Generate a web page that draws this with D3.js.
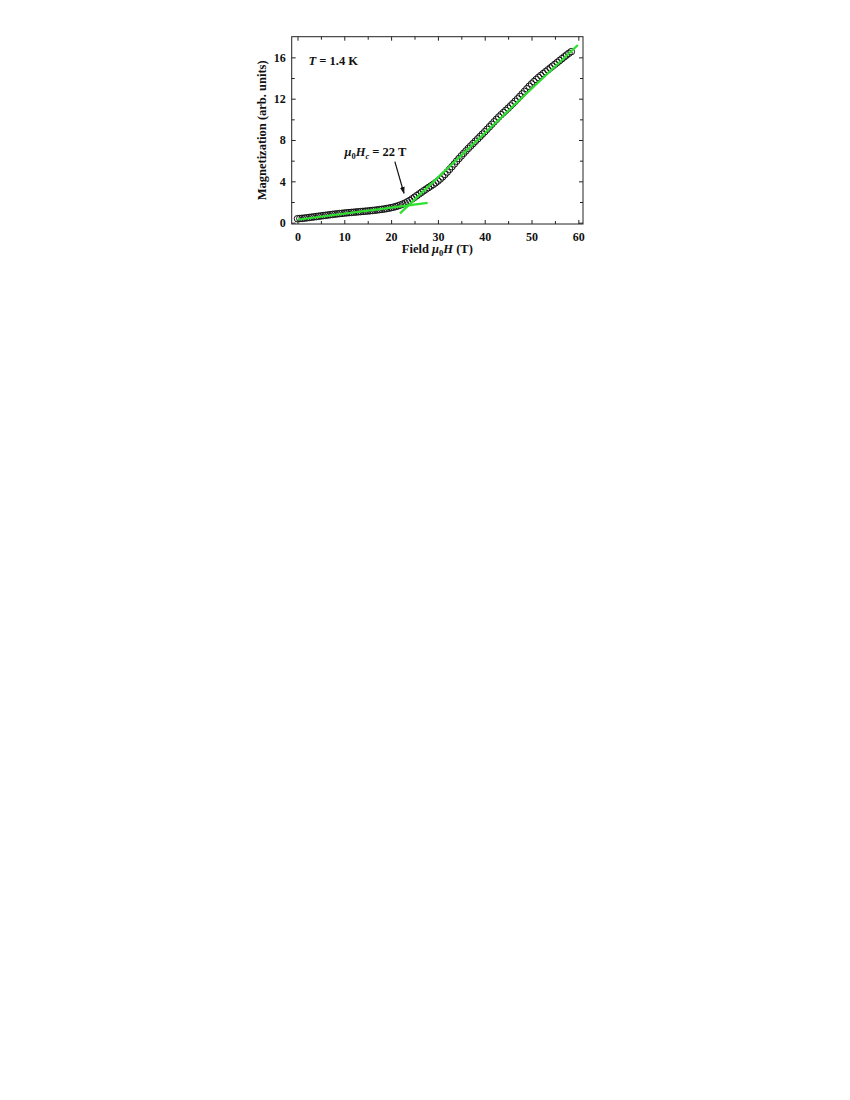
<!DOCTYPE html>
<html>
<head>
<meta charset="utf-8">
<script src="https://cdn.jsdelivr.net/npm/d3@7"></script>
<style>
  html, body { margin: 0; padding: 0; background: #fff; }
  svg text { font-family: "Liberation Serif", "Times New Roman", serif; font-weight: bold; fill: #111; }
</style>
</head>
<body>
<svg id="chart" width="850" height="1100"></svg>
<script>
// ---- data ----
const fieldT = [
  0,0.5,1,1.5,2,2.5,3,3.5,4,4.5,5,5.5,6,6.5,7,7.5,8,8.5,9,9.5,
  10,10.5,11,11.5,12,12.5,13,13.5,14,14.5,15,15.5,16,16.5,17,17.5,18,18.5,19,19.5,
  20,20.5,21,21.5,22,22.5,23,23.5,24,24.5,25,25.5,26,26.5,27,27.5,28,28.5,29,29.5,
  30,30.5,31,31.5,32,32.5,33,33.5,34,34.5,35,35.5,36,36.5,37,37.5,38,38.5,39,39.5,
  40,40.5,41,41.5,42,42.5,43,43.5,44,44.5,45,45.5,46,46.5,47,47.5,48,48.5,49,49.5,
  50,50.5,51,51.5,52,52.5,53,53.5,54,54.5,55,55.5,56,56.5,57,57.5,58,58.5
];
const magnetization = [
  0.38,0.40,0.42,0.44,0.47,0.50,0.53,0.56,0.59,0.62,0.65,0.68,0.71,0.74,0.77,0.80,0.83,0.85,0.88,0.90,
  0.93,0.95,0.97,0.99,1.01,1.03,1.05,1.07,1.09,1.11,1.13,1.15,1.18,1.20,1.23,1.26,1.29,1.32,1.36,1.40,
  1.45,1.50,1.56,1.63,1.71,1.80,1.90,2.02,2.15,2.30,2.46,2.62,2.78,2.94,3.10,3.25,3.40,3.55,3.70,3.86,
  4.03,4.22,4.43,4.66,4.90,5.16,5.42,5.68,5.95,6.21,6.46,6.71,6.95,7.19,7.42,7.65,7.88,8.11,8.34,8.57,
  8.80,9.04,9.28,9.52,9.76,10.00,10.23,10.45,10.66,10.87,11.08,11.30,11.52,11.75,11.98,12.22,12.46,12.71,12.96,13.20,
  13.43,13.65,13.86,14.06,14.25,14.43,14.61,14.79,14.97,15.15,15.33,15.51,15.69,15.87,16.05,16.23,16.40,16.55
];
// linear fits (green lines): [x, y] endpoints
const lowFieldFit = [[0, 0.28], [27.8, 1.92]];
const highFieldFit = [[21.9, 0.9], [59.9, 17.2]];
// tick values
const xMajorTicks = [0, 10, 20, 30, 40, 50, 60];
const xMinorTicks = [5, 15, 25, 35, 45, 55];
const yMajorTicks = [0, 4, 8, 12, 16];
const yMinorTicks = [2, 6, 10, 14];
// annotation
const arrowFrom = [20.8, 5.9];
const arrowTo = [22.75, 2.85];

// ---- layout ----
const svg = d3.select("#chart");
const pL = 291.7, pR = 583, pT = 36.7, pB = 224;
const x = d3.scaleLinear().domain([-1.24, 61.0]).range([pL, pR]);
const y = d3.scaleLinear().domain([-0.13, 18.0]).range([pB, pT]);

const defs = svg.append("defs");
defs.append("marker").attr("id", "ah").attr("viewBox", "0 0 10 10")
  .attr("refX", 9).attr("refY", 5).attr("markerWidth", 7).attr("markerHeight", 7)
  .attr("markerUnits", "userSpaceOnUse").attr("orient", "auto")
  .append("path").attr("d", "M0,1.5 L10,5 L0,8.5 Z").attr("fill", "#111");

// data points
const pts = fieldT.map((f, i) => [f, magnetization[i]]);
svg.append("g").selectAll("circle").data(pts).join("circle")
  .attr("cx", d => x(d[0])).attr("cy", d => y(d[1])).attr("r", 3.3)
  .attr("fill", "none").attr("stroke", "#111").attr("stroke-width", 1);

// fit lines
const line = d3.line().x(d => x(d[0])).y(d => y(d[1]));
[lowFieldFit, highFieldFit].forEach(f => {
  svg.append("path").attr("d", line(f)).attr("fill", "none")
    .attr("stroke", "#2ee02e").attr("stroke-width", 2.2);
});

// axes (ticks inside, on all sides)
function addAxis(axisGen, transform, ticks, size, labels) {
  const g = svg.append("g").attr("transform", transform)
    .call(axisGen.tickValues(ticks).tickSize(-size).tickPadding(size + 4)
      .tickFormat(labels ? d3.format("d") : ""));
  g.select(".domain").remove();
  g.selectAll(".tick line").attr("stroke", "#222").attr("stroke-width", 1);
  g.selectAll("text").attr("font-size", 12).style("font-family", "'Liberation Serif', serif").style("font-weight", "bold").attr("fill", "#111");
  return g;
}
addAxis(d3.axisBottom(x), `translate(0,${pB})`, xMajorTicks, 4, true);
addAxis(d3.axisBottom(x), `translate(0,${pB})`, xMinorTicks, 3, false);
addAxis(d3.axisTop(x), `translate(0,${pT})`, xMajorTicks, 4, false);
addAxis(d3.axisTop(x), `translate(0,${pT})`, xMinorTicks, 3, false);
const yl = addAxis(d3.axisLeft(y), `translate(${pL},0)`, yMajorTicks, 4, true);
yl.selectAll(".tick text").attr("x", -6);
addAxis(d3.axisLeft(y), `translate(${pL},0)`, yMinorTicks, 3, false);
addAxis(d3.axisRight(y), `translate(${pR},0)`, yMajorTicks, 4, false);
addAxis(d3.axisRight(y), `translate(${pR},0)`, yMinorTicks, 3, false);

// frame
svg.append("rect").attr("x", pL).attr("y", pT).attr("width", pR - pL).attr("height", pB - pT)
  .attr("fill", "none").attr("stroke", "#222").attr("stroke-width", 1);

// axis titles
const xt = svg.append("text").attr("x", (pL + pR) / 2).attr("y", 252.5)
  .attr("text-anchor", "middle").attr("font-size", 12.5);
xt.append("tspan").text("Field ");
xt.append("tspan").attr("font-style", "italic").text("μ");
xt.append("tspan").attr("font-size", 8.5).attr("dy", 3).text("0");
xt.append("tspan").attr("font-style", "italic").attr("dy", -3).text("H");
xt.append("tspan").text(" (T)");

svg.append("text").attr("transform", `translate(265.5,${(pT + pB) / 2}) rotate(-90)`)
  .attr("text-anchor", "middle").attr("font-size", 12.5).text("Magnetization (arb. units)");

// temperature label
const tl = svg.append("text").attr("x", 308.5).attr("y", 64.5).attr("font-size", 12.5);
tl.append("tspan").attr("font-style", "italic").text("T");
tl.append("tspan").text(" = 1.4 K");

// critical field annotation
const an = svg.append("text").attr("x", 344.5).attr("y", 156).attr("font-size", 12.5);
an.append("tspan").attr("font-style", "italic").text("μ");
an.append("tspan").attr("font-size", 8.5).attr("dy", 3).text("0");
an.append("tspan").attr("font-style", "italic").attr("dy", -3).text("H");
an.append("tspan").attr("font-size", 8.5).attr("font-style", "italic").attr("dy", 3).text("c");
an.append("tspan").attr("dy", -3).text(" = 22 T");

svg.append("line").attr("x1", x(arrowFrom[0])).attr("y1", y(arrowFrom[1]))
  .attr("x2", x(arrowTo[0])).attr("y2", y(arrowTo[1]))
  .attr("stroke", "#111").attr("stroke-width", 1.2).attr("marker-end", "url(#ah)");
</script>
</body>
</html>
